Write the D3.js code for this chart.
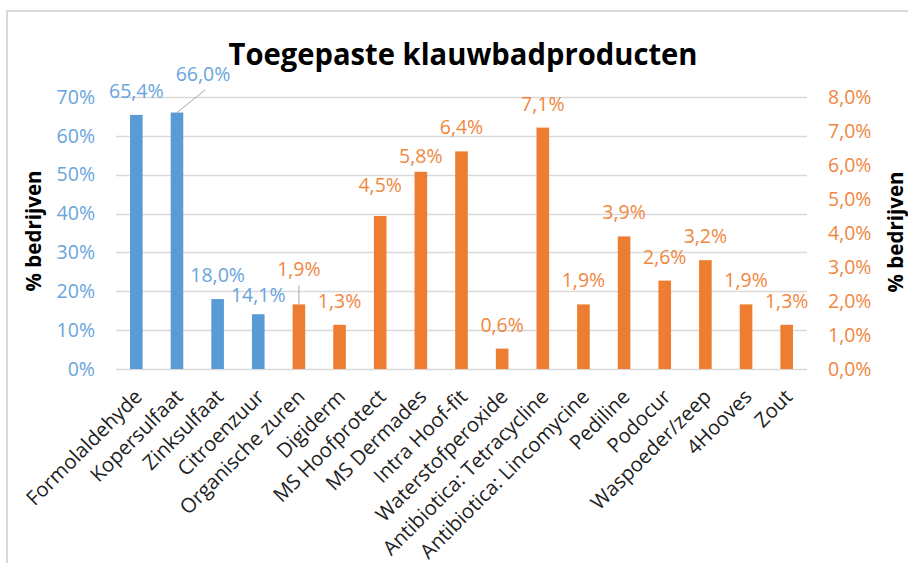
<!DOCTYPE html>
<html><head><meta charset="utf-8">
<script src="https://cdn.jsdelivr.net/npm/d3@7"></script>
<style>body{margin:0;background:#fff;overflow:hidden}</style>
</head><body><svg id="c" width="908" height="563"></svg>
<script>
// ---- data ----
const categories = ["Formolaldehyde","Kopersulfaat","Zinksulfaat","Citroenzuur","Organische zuren","Digiderm","MS Hoofprotect","MS Dermades","Intra Hoof-fit","Waterstofperoxide","Antibiotica: Tetracycline","Antibiotica: Lincomycine","Pediline","Podocur","Waspoeder/zeep","4Hooves","Zout"];
const primaryValues   = [65.4, 66.0, 18.0, 14.1, null, null, null, null, null, null, null, null, null, null, null, null, null];
const secondaryValues = [null, null, null, null, 1.9, 1.3, 4.5, 5.8, 6.4, 0.6, 7.1, 1.9, 3.9, 2.6, 3.2, 1.9, 1.3];
const leftTicks  = [0, 10, 20, 30, 40, 50, 60, 70];
const rightTicks = [0, 1, 2, 3, 4, 5, 6, 7, 8];
const titleText = "Toegepaste klauwbadproducten";
const axisTitle = "% bedrijven";

// ---- layout (not data) ----
const X0 = 116, X1 = 807, Y0 = 97, Y1 = 369;
const BLUE = "#5b9bd5", ORANGE = "#ed7d31", BLUE_T = "#69a5dc", ORANGE_T = "#f0873f";
const labelShift = {
  "Kopersulfaat": {dx: 26, dy: -14.5, leader: true},
  "Citroenzuur": {dx: 0, dy: 5},
  "Organische zuren": {dx: 0, dy: -11, leader: true},
  "MS Hoofprotect": {dx: 0, dy: -7},
  "MS Dermades": {dx: 0, dy: 8}
};

const loc = d3.formatLocale({decimal: ",", thousands: ".", grouping: [3], currency: ["€", ""]});
const fmt1 = loc.format(".1f");

const svg = d3.select("#c");
svg.append("rect").attr("width", 908).attr("height", 563).attr("fill", "#fff");
// chart border
svg.append("path").attr("d", "M7,563 L7,11 L908,11").attr("fill", "none")
  .attr("stroke", "#d9d9d9").attr("stroke-width", 2);

const x = d3.scaleBand().domain(categories).range([X0, X1]).paddingInner(0.69).paddingOuter(0.345);
const yL = d3.scaleLinear().domain([0, 70]).range([Y1, Y0]);
const yR = d3.scaleLinear().domain([0, 8]).range([Y1, Y0]);

// gridlines
svg.append("g").selectAll("line").data(leftTicks).join("line")
  .attr("x1", X0).attr("x2", X1)
  .attr("y1", d => Math.round(yL(d)) + 0.5).attr("y2", d => Math.round(yL(d)) + 0.5)
  .attr("stroke", "#d9d9d9").attr("stroke-width", 1.3);

const font = "'Open Sans', sans-serif";

// left axis
const axL = svg.append("g").attr("transform", `translate(${X0 - 21},0)`)
  .call(d3.axisLeft(yL).tickValues(leftTicks).tickSize(0).tickPadding(0).tickFormat(d => d + "%"));
axL.select(".domain").remove();
axL.selectAll("text").attr("fill", BLUE_T).style("font-family", font).style("font-size", "19.5px");

// right axis
const axR = svg.append("g").attr("transform", `translate(${X1 + 21},0)`)
  .call(d3.axisRight(yR).tickValues(rightTicks).tickSize(0).tickPadding(0).tickFormat(d => fmt1(d) + "%"));
axR.select(".domain").remove();
axR.selectAll("text").attr("fill", ORANGE_T).style("font-family", font).style("font-size", "19.5px");

// bars
const rows = categories.map((c, i) => {
  const p = primaryValues[i], s = secondaryValues[i];
  return p != null ? {c, v: p, top: yL(p), color: BLUE, tcolor: BLUE_T}
                   : {c, v: s, top: yR(s), color: ORANGE, tcolor: ORANGE_T};
});
svg.append("g").selectAll("rect").data(rows).join("rect")
  .attr("x", d => x(d.c)).attr("width", x.bandwidth())
  .attr("y", d => d.top).attr("height", d => Y1 - d.top)
  .attr("fill", d => d.color);

// data labels
const lab = svg.append("g");
rows.forEach(d => {
  const sh = labelShift[d.c] || {dx: 0, dy: 0};
  const cx = x(d.c) + x.bandwidth() / 2;
  const lx = cx + sh.dx, ly = d.top - 17 + sh.dy;
  if (sh.leader) {
    lab.append("line").attr("x1", cx).attr("y1", d.top)
      .attr("x2", lx + (sh.dx > 0 ? 2 : 0)).attr("y2", ly + 9)
      .attr("stroke", "#a6a6a6").attr("stroke-width", 1);
  }
  lab.append("text").attr("x", lx).attr("y", ly).attr("text-anchor", "middle")
    .attr("fill", d.tcolor).style("font-family", font).style("font-size", "19.5px")
    .text(fmt1(d.v) + "%");
});

// category labels
svg.append("g").selectAll("text").data(categories).join("text")
  .attr("transform", d => `translate(${x(d) + x.bandwidth() / 2 + 2},${393}) rotate(-45)`)
  .attr("text-anchor", "end").attr("dy", "0.35em")
  .attr("fill", "#222").style("font-family", font).style("font-size", "20.3px")
  .text(d => d);

// title
svg.append("text").attr("x", 463).attr("y", 65).attr("text-anchor", "middle")
  .attr("textLength", 469).attr("lengthAdjust", "spacingAndGlyphs")
  .style("font-family", font).style("font-weight", "bold").style("font-size", "30px")
  .attr("fill", "#000").text(titleText);

// axis titles
svg.append("text").attr("transform", "translate(41,231) rotate(-90)").attr("text-anchor", "middle")
  .style("font-family", font).style("font-weight", "bold").style("font-size", "20.5px")
  .attr("fill", "#000").text(axisTitle);
svg.append("text").attr("transform", "translate(903,232) rotate(-90)").attr("text-anchor", "middle")
  .style("font-family", font).style("font-weight", "bold").style("font-size", "20.5px")
  .attr("fill", "#000").text(axisTitle);
</script></body></html>
